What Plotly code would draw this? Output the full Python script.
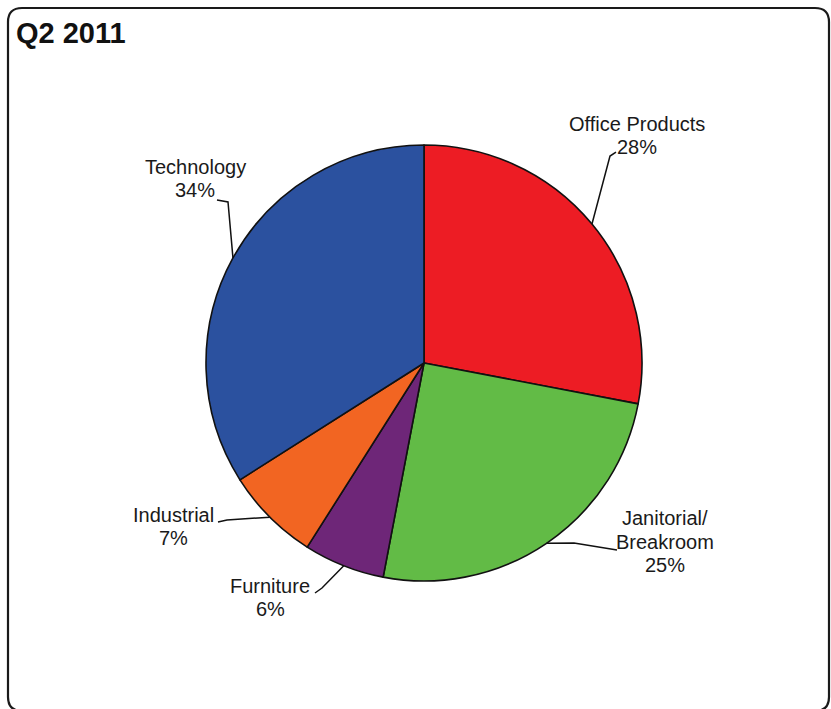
import math
import plotly.graph_objects as go

# ---- data ----
categories = ["Office Products", "Janitorial/<br>Breakroom", "Furniture", "Industrial", "Technology"]
label_lines = [["Office Products", "28%"], ["Janitorial/", "Breakroom", "25%"],
               ["Furniture", "6%"], ["Industrial", "7%"], ["Technology", "34%"]]
values = [28, 25, 6, 7, 34]
colors = ["#ED1C24", "#62BB46", "#6E2678", "#F26522", "#2B519F"]
title = "Q2 2011"

# ---- layout (pixels) ----
W, H = 831, 709
CX, CY, R = 424, 363, 218

def px(x):
    return x / W

def py(y):
    return 1 - y / H

fig = go.Figure()
fig.add_trace(go.Pie(
    labels=categories, values=values, sort=False, direction="clockwise", rotation=0,
    marker=dict(colors=colors, line=dict(color="#111111", width=1.6)),
    textinfo="none", hoverinfo="label+percent", showlegend=False,
    domain=dict(x=[px(CX - R), px(CX + R)], y=[py(CY + R), py(CY - R)]),
))

# label placement: line centers (x, [y of each line]) and leader-line bend points
label_pos = [
    (637, [124, 147]),
    (665, [518, 542, 565]),
    (270, [586, 609]),
    (173, [515, 538]),
    (195, [167, 190]),
]
leader_pts = [
    [(610, 156), (616, 152)],
    [(574, 543), (617, 550)],
    [(322, 588), (315, 593)],
    [(227, 520), (218, 522)],
    [(228, 202), (217, 200)],
]

total = sum(values)
cum = 0
shapes = []
annotations = []
for i, v in enumerate(values):
    mid = (cum + v / 2) / total * 2 * math.pi
    cum += v
    sx = CX + R * math.sin(mid)
    sy = CY - R * math.cos(mid)
    pts = [(sx, sy)] + leader_pts[i]
    path = "M " + " L ".join(f"{px(x):.5f},{py(y):.5f}" for x, y in pts)
    shapes.append(dict(type="path", path=path, xref="paper", yref="paper",
                       line=dict(color="#111111", width=1.5)))
    lx, ys = label_pos[i]
    for txt, yy in zip(label_lines[i], ys):
        annotations.append(dict(text=txt, x=px(lx), y=py(yy), xref="paper", yref="paper",
                                xanchor="center", yanchor="middle", showarrow=False,
                                font=dict(family="Liberation Sans, Arial", size=20, color="#1a1a1a")))

annotations.append(dict(text="<b>" + title + "</b>", x=px(14), y=py(33), xref="paper", yref="paper",
                        xanchor="left", yanchor="middle", showarrow=False,
                        font=dict(family="Liberation Sans, Arial", size=29, color="#111111")))

# rounded frame
x0, y0, x1, y1, rr = 8, 8, 829, 711, 14
frame = (f"M {px(x0)},{py(y0 + rr)} Q {px(x0)},{py(y0)} {px(x0 + rr)},{py(y0)} "
         f"L {px(x1 - rr)},{py(y0)} Q {px(x1)},{py(y0)} {px(x1)},{py(y0 + rr)} "
         f"L {px(x1)},{py(y1 - rr)} Q {px(x1)},{py(y1)} {px(x1 - rr)},{py(y1)} "
         f"L {px(x0 + rr)},{py(y1)} Q {px(x0)},{py(y1)} {px(x0)},{py(y1 - rr)} Z")
shapes.append(dict(type="path", path=frame, xref="paper", yref="paper",
                   line=dict(color="#1a1a1a", width=2.2)))

fig.update_layout(width=W, height=H, margin=dict(l=0, r=0, t=0, b=0),
                  paper_bgcolor="white", plot_bgcolor="white",
                  shapes=shapes, annotations=annotations)
fig.write_html("out.html")
